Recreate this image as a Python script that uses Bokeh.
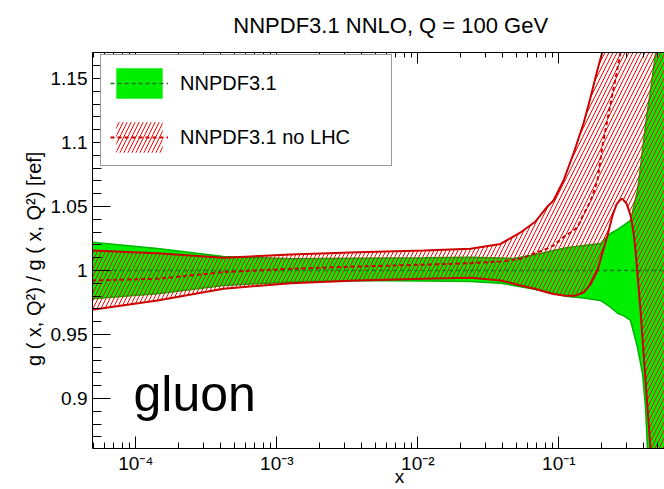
import numpy as np
from bokeh.plotting import figure
from bokeh.models import (ColumnDataSource, FixedTicker, LogAxis, Legend,
                          LegendItem, Label, Range1d, CustomJSTickFormatter)
from bokeh.embed import file_html
from bokeh.resources import INLINE

# ---------------- data ----------------
title_text = "NNPDF3.1 NNLO, Q = 100 GeV"
x_tick_values = [1e-4, 1e-3, 1e-2, 1e-1]
x_tick_labels = ["10⁻⁴", "10⁻³", "10⁻²", "10⁻¹"]
y_tick_values = [0.9, 0.95, 1.0, 1.05, 1.1, 1.15]
y_tick_labels = ["0.9", "0.95", "1", "1.05", "1.1", "1.15"]

# NNPDF3.1 (reference): band and central value
x_green = [4.9e-5, 1.425e-4, 4.19e-4, 1.251e-3, 3.735e-3, 1.098e-2, 2.364e-2,
           3.86e-2, 4.77e-2, 6.30e-2, 7.42e-2, 9.17e-2, 0.1153, 0.1497,
           0.1975, 0.2326, 0.2608, 0.2740, 0.2877, 0.3225, 0.3615, 0.3923,
           0.4120, 0.4257, 0.4471, 0.4851, 0.57]
green_up = [1.0221, 1.0172, 1.0109, 1.0091, 1.0096, 1.0099, 1.0104,
            1.0098, 1.0094, 1.0117, 1.0133, 1.0156, 1.0180, 1.0195,
            1.0211, 1.0289, 1.0320, 1.0336, 1.0352, 1.0391, 1.0625, 1.0938,
            1.1133, 1.1250, 1.1406, 1.1695, 1.30]
green_lo = [0.9779, 0.9818, 0.9883, 0.9909, 0.9922, 0.9918, 0.9914,
            0.9901, 0.9883, 0.9859, 0.9844, 0.9820, 0.9797, 0.9785,
            0.9766, 0.9713, 0.9666, 0.9656, 0.9648, 0.9609, 0.9398, 0.9195,
            0.8930, 0.8602, 0.75, 0.70, 0.70]
x_green_cv = [4.9e-5, 0.57]
green_cv = [1.0, 1.0]

# NNPDF3.1 no LHC: band and central value
x_red = [4.9e-5, 1.425e-4, 4.19e-4, 1.251e-3, 3.735e-3, 1.098e-2, 2.364e-2,
         3.86e-2, 5.35e-2, 6.84e-2, 8.32e-2, 9.17e-2, 0.108, 0.1271, 0.1357,
         0.1497, 0.1678, 0.1881, 0.2041, 0.2215, 0.2403, 0.2566, 0.2740,
         0.2831, 0.3020, 0.3225, 0.3387, 0.3499, 0.3796, 0.4120, 0.4471,
         0.4851, 0.57]
red_up = [1.0156, 1.0135, 1.0099, 1.0125, 1.0143, 1.0156, 1.0170,
          1.0207, 1.0297, 1.0383, 1.0500, 1.0547, 1.0703, 1.0914, 1.1008,
          1.1148, 1.1352, 1.1570, 1.1711, 1.25, 1.35, 1.35, 1.35,
          1.35, 1.35, 1.35, 1.35, 1.35, 1.35, 1.35, 1.35,
          1.35, 1.35]
red_cv = [0.9922, 0.9935, 0.9987, 1.0013, 1.0031, 1.0045, 1.0057,
          1.0070, 1.0091, 1.0137, 1.0172, 1.0195, 1.0260, 1.0313, 1.0338,
          1.0438, 1.0539, 1.0703, 1.0977, 1.1180, 1.1383, 1.1539, 1.1703,
          1.1781, 1.35, 1.35, 1.35, 1.35, 1.35, 1.35, 1.35,
          1.35, 1.35]
red_lo = [0.9693, 0.9766, 0.9857, 0.9901, 0.9922, 0.9935, 0.9943,
          0.9922, 0.9883, 0.9855, 0.9828, 0.9816, 0.9805, 0.9801, 0.9809,
          0.9828, 0.9891, 1.0000, 1.0141, 1.0273, 1.0430, 1.0516, 1.0555,
          1.0559, 1.0523, 1.0430, 1.0297, 1.0156, 0.9688, 0.9141, 0.8602,
          0.7969, 0.7422]

# ---------------- styling ----------------
FONT = "Liberation Sans"
GREEN = "#00ee00"
GREEN_EDGE = "#00b400"
GREEN_CV = "#1f7a1f"
RED_LINE = "#cc0000"
RED_HATCH = "#ff0000"
NB = "\u00a0"

p = figure(width=664, height=489, x_axis_type="log",
           x_range=Range1d(4.93e-5, 0.5617), y_range=Range1d(0.8609, 1.1703),
           output_backend="svg", toolbar_location=None,
           min_border_left=92, min_border_right=0, min_border_top=52,
           min_border_bottom=41)
p.outline_line_color = None
p.grid.visible = False
p.background_fill_color = "white"
p.border_fill_color = "white"

p.title.text = NB * 4 + title_text
p.title.align = "center"
p.title.standoff = 19
p.title.text_line_height = 0.75
p.title.text_font = FONT
p.title.text_font_size = "22px"
p.title.text_font_style = "normal"
p.title.text_color = "black"

src_g = ColumnDataSource(dict(x=x_green, up=green_up, lo=green_lo))
src_gc = ColumnDataSource(dict(x=x_green_cv, cv=green_cv))
src_r = ColumnDataSource(dict(x=x_red, up=red_up, lo=red_lo, cv=red_cv))

g_band = p.varea(x="x", y1="lo", y2="up", source=src_g, fill_color=GREEN,
                 fill_alpha=1.0)
p.line(x="x", y="up", source=src_g, line_color=GREEN_EDGE, line_width=1.5)
p.line(x="x", y="lo", source=src_g, line_color=GREEN_EDGE, line_width=1.5)

r_band = p.varea(x="x", y1="lo", y2="up", source=src_r, fill_alpha=0.0,
                 hatch_pattern="/", hatch_color=RED_HATCH, hatch_scale=8,
                 hatch_weight=1)
g_line = p.line(x="x", y="cv", source=src_gc, line_color=GREEN_CV,
                line_width=1.5, line_dash="4 3")
p.line(x="x", y="up", source=src_r, line_color=RED_LINE, line_width=2)
p.line(x="x", y="lo", source=src_r, line_color=RED_LINE, line_width=2)
r_line = p.line(x="x", y="cv", source=src_r, line_color=RED_LINE,
                line_width=2, line_dash="4 3")

# ---------------- axes ----------------
x_minor = [k * 10.0 ** e for e in range(-5, 0) for k in range(2, 10)]
y_minor = [round(0.86 + 0.01 * i, 2) for i in range(0, 32)]

xax = p.xaxis[0]
xax.ticker = FixedTicker(ticks=x_tick_values, minor_ticks=x_minor)
xax.major_label_overrides = dict(zip(x_tick_values, x_tick_labels))
xax.axis_label = NB * 8 + "x"
yax = p.yaxis[0]
yax.ticker = FixedTicker(ticks=y_tick_values, minor_ticks=y_minor)
yax.major_label_overrides = dict(zip(y_tick_values, y_tick_labels))
yax.axis_label = "g ( x, Q²) / g ( x, Q²) [ref]" + NB * 3

top = LogAxis(ticker=FixedTicker(ticks=x_tick_values, minor_ticks=x_minor),
              formatter=CustomJSTickFormatter(code="return ' ';"),
              major_label_text_font_size="2px", major_label_standoff=0)
p.add_layout(top, "above")

for ax, (mj, mn) in ((xax, (12, 6)), (top, (11, 5)), (yax, (18, 9))):
    ax.major_tick_in = mj
    ax.major_tick_out = 0
    ax.minor_tick_in = mn
    ax.minor_tick_out = 0
    ax.axis_line_color = "black"
    ax.axis_line_width = 1
    ax.major_tick_line_color = "black"
    ax.minor_tick_line_color = "black"
    ax.major_label_text_font = FONT
    ax.major_label_text_color = "black"
    ax.axis_label_text_font = FONT
    ax.axis_label_text_font_style = "normal"
    ax.axis_label_text_color = "black"

xax.major_label_text_font_size = "19px"
xax.major_label_standoff = 4
xax.axis_label_text_font_size = "19px"
xax.axis_label_standoff = -11
yax.major_label_text_font_size = "19px"
yax.major_label_standoff = 5
yax.axis_label_text_font_size = "20px"
yax.axis_label_standoff = 3

# big "gluon" label
p.add_layout(Label(x=9.64e-5, y=0.9035, text="gluon", text_font=FONT,
                   text_font_size="50px", text_align="left",
                   text_baseline="alphabetic", text_color="black"))

# ---------------- legend ----------------
legend = Legend(items=[
    LegendItem(label="NNPDF3.1", renderers=[g_band, g_line]),
    LegendItem(label="NNPDF3.1 no LHC", renderers=[r_band, r_line]),
], location=(8, 282), margin=0, padding=9, spacing=16,
   glyph_width=58, glyph_height=38, label_height=38, label_width=202,
   label_standoff=12, label_text_font=FONT, label_text_font_size="20px",
   label_text_color="black", border_line_color="#333333",
   border_line_width=1, background_fill_color="white",
   background_fill_alpha=1.0)
p.add_layout(legend, "center")

open("out.html", "w").write(file_html(p, INLINE))
